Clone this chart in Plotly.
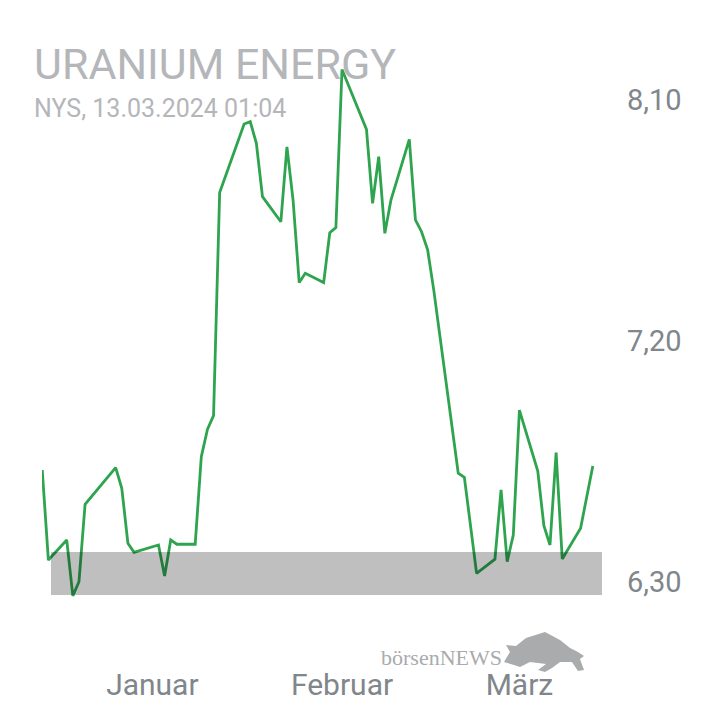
import plotly.graph_objects as go

# ---- data ----
dates = [
    "2023-12-14", "2023-12-15", "2023-12-18", "2023-12-19", "2023-12-20", "2023-12-21",
    "2023-12-26", "2023-12-27", "2023-12-28", "2023-12-29",
    "2024-01-02", "2024-01-03", "2024-01-04", "2024-01-05",
    "2024-01-08", "2024-01-09", "2024-01-10", "2024-01-11", "2024-01-12",
    "2024-01-16", "2024-01-17", "2024-01-18", "2024-01-19",
    "2024-01-22", "2024-01-23", "2024-01-24", "2024-01-25", "2024-01-26",
    "2024-01-29", "2024-01-30", "2024-01-31", "2024-02-01",
    "2024-02-05", "2024-02-06", "2024-02-07", "2024-02-08", "2024-02-09",
    "2024-02-12", "2024-02-13", "2024-02-14", "2024-02-15", "2024-02-16",
    "2024-02-20", "2024-02-21", "2024-02-23",
    "2024-02-26", "2024-02-27", "2024-02-28", "2024-02-29", "2024-03-01",
    "2024-03-04", "2024-03-05", "2024-03-06", "2024-03-07", "2024-03-08",
    "2024-03-11", "2024-03-13",
]
prices = [
    6.718, 6.382, 6.457, 6.248, 6.301, 6.590,
    6.727, 6.650, 6.445, 6.411,
    6.438, 6.322, 6.457, 6.441,
    6.441, 6.768, 6.870, 6.921, 7.754,
    8.010, 8.019, 7.938, 7.739,
    7.645, 7.925, 7.726, 7.418, 7.453,
    7.418, 7.604, 7.623, 8.214,
    7.990, 7.714, 7.888, 7.602, 7.726,
    7.953, 7.652, 7.608, 7.540, 7.390,
    6.706, 6.691, 6.332,
    6.385, 6.644, 6.376, 6.475, 6.942,
    6.714, 6.510, 6.438, 6.783, 6.386,
    6.501, 6.733,
]
month_ticks = ["2024-01-01", "2024-02-01", "2024-03-01"]
month_labels = ["Januar", "Februar", "März"]
price_ticks = [6.30, 7.20, 8.10]
price_labels = ["6,30", "7,20", "8,10"]
band_low, band_high = 6.251, 6.412

title_text = "URANIUM ENERGY"
subtitle_text = "NYS, 13.03.2024 01:04"

fig = go.Figure()
fig.add_trace(go.Scatter(
    x=dates, y=prices, mode="lines",
    line=dict(color="#2ea44f", width=2.8),
    hoverinfo="skip", showlegend=False,
))

fig.add_shape(
    type="rect", xref="paper", yref="y",
    x0=0.016, x1=1.0, y0=band_low, y1=band_high,
    fillcolor="rgba(0,0,0,0.25)", line=dict(width=0), layer="above",
)

gray = "#80868b"
fig.update_layout(
    width=720, height=720,
    margin=dict(l=34, r=126, t=52, b=118),
    paper_bgcolor="white", plot_bgcolor="white",
    font=dict(family="Roboto", color=gray),
    xaxis=dict(
        type="date",
        range=["2023-12-13 23:00", "2024-03-14 12:00"],
        tickvals=month_ticks, ticktext=month_labels,
        tickfont=dict(size=30, color=gray, family="Roboto"),
        showgrid=False, zeroline=False, showline=False, ticks="",
        ticklabelstandoff=54,
    ),
    yaxis=dict(
        side="right",
        range=[6.1954, 8.2492],
        tickvals=price_ticks, ticktext=price_labels,
        tickfont=dict(size=29, color=gray, family="Roboto"),
        showgrid=False, zeroline=False, showline=False, ticks="",
        ticklabelstandoff=24,
    ),
    annotations=[
        dict(text=title_text, xref="paper", yref="paper", x=-0.018, y=0.993,
             xanchor="left", yanchor="middle", showarrow=False,
             font=dict(size=43, color="#b4b6b9", family="Roboto")),
        dict(text=subtitle_text, xref="paper", yref="paper", x=-0.018, y=0.911,
             xanchor="left", yanchor="middle", showarrow=False,
             font=dict(size=25, color="#b4b6b9", family="Roboto")),
        dict(text="börsenNEWS", xref="paper", yref="paper", x=0.714, y=-0.087,
             xanchor="center", yanchor="middle", showarrow=False,
             font=dict(size=22, color="#a9abad", family="Liberation Serif")),
    ],
)

# bull logo silhouette (decorative), in paper coordinates (page pixels -> plot fraction)
def px_to_paper(px, py):
    return (px - 42) / 560, (610 - py) / 550

bull_px = [(504, 662), (510, 652), (506, 645), (516, 646), (526, 638), (545, 632),
           (560, 640), (570, 648), (578, 652), (584, 656), (580, 659), (584, 670),
           (578, 671), (572, 662), (560, 662), (552, 668), (545, 672), (538, 670),
           (546, 664), (530, 662), (520, 667), (514, 665)]
pts = [px_to_paper(a, b) for a, b in bull_px]
path = "M " + " L ".join(f"{x:.4f},{y:.4f}" for x, y in pts) + " Z"
fig.add_shape(type="path", xref="paper", yref="paper", path=path,
              fillcolor="#a9abad", line=dict(width=0), layer="above")

fig.write_html("out.html")
